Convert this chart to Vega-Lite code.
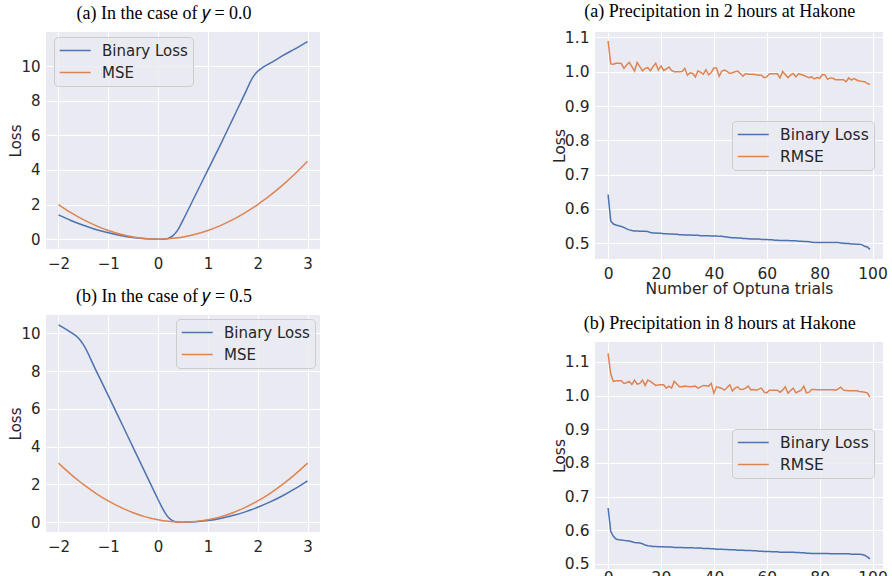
{
  "$schema": "https://vega.github.io/schema/vega-lite/v6.json",
  "background": "white",
  "padding": {"left": 8, "top": 3, "right": 0, "bottom": 0},
  "config": {
    "view": {"fill": "#EAEAF2", "stroke": null},
    "axis": {
      "domain": false, "ticks": false, "tickSize": 0,
      "grid": true, "gridColor": "#FFFFFF", "gridWidth": 1,
      "labelFont": "DejaVu Sans", "labelColor": "#262626",
      "titleFont": "DejaVu Sans", "titleColor": "#262626", "titleFontWeight": "normal"
    },
    "axisX": {"labelBaseline": "alphabetic", "labelPadding": 19},
    "axisY": {"labelPadding": 6, "titleBaseline": "alphabetic"},
    "title": {"font": "Liberation Serif", "fontSize": 18, "fontWeight": "normal", "color": "#000000", "offset": 9, "frame": "bounds", "anchor": "middle"},
    "legend": {
      "orient": "none", "title": null,
      "symbolType": "M-1,0H3", "symbolSize": 240, "symbolStrokeWidth": 1.5,
      "labelFont": "DejaVu Sans", "labelColor": "#262626", "labelOffset": 26,
      "fillColor": "rgba(234,234,242,0.8)", "strokeColor": "#CCCCCC",
      "cornerRadius": 4, "padding": 5, "rowPadding": 5
    }
  },
  "datasets": {
    "case_y0": [
      {"x": -2, "binary": 1.4, "mse": 2.0},
      {"x": -1.75, "binary": 1.08, "mse": 1.531},
      {"x": -1.5, "binary": 0.8, "mse": 1.125},
      {"x": -1.25, "binary": 0.56, "mse": 0.781},
      {"x": -1, "binary": 0.37, "mse": 0.5},
      {"x": -0.75, "binary": 0.21, "mse": 0.281},
      {"x": -0.5, "binary": 0.09, "mse": 0.125},
      {"x": -0.25, "binary": 0.02, "mse": 0.031},
      {"x": 0, "binary": 0, "mse": 0},
      {"x": 0.1, "binary": 0.0, "mse": 0.005},
      {"x": 0.2, "binary": 0.04, "mse": 0.02},
      {"x": 0.3, "binary": 0.2, "mse": 0.045},
      {"x": 0.4, "binary": 0.55, "mse": 0.08},
      {"x": 0.5, "binary": 1.1, "mse": 0.125},
      {"x": 0.75, "binary": 2.55, "mse": 0.281},
      {"x": 1, "binary": 4.0, "mse": 0.5},
      {"x": 1.25, "binary": 5.45, "mse": 0.781},
      {"x": 1.5, "binary": 6.95, "mse": 1.125},
      {"x": 1.75, "binary": 8.45, "mse": 1.531},
      {"x": 1.9, "binary": 9.35, "mse": 1.805},
      {"x": 2, "binary": 9.7, "mse": 2.0},
      {"x": 2.1, "binary": 9.92, "mse": 2.205},
      {"x": 2.25, "binary": 10.17, "mse": 2.531},
      {"x": 2.5, "binary": 10.6, "mse": 3.125},
      {"x": 2.75, "binary": 11.0, "mse": 3.781},
      {"x": 3, "binary": 11.42, "mse": 4.5}
    ],
    "case_y05": [
      {"x": -2, "binary": 10.45, "mse": 3.125},
      {"x": -1.75, "binary": 10.05, "mse": 2.531},
      {"x": -1.6, "binary": 9.75, "mse": 2.205},
      {"x": -1.5, "binary": 9.4, "mse": 2.0},
      {"x": -1.25, "binary": 8.05, "mse": 1.531},
      {"x": -1, "binary": 6.7, "mse": 1.125},
      {"x": -0.75, "binary": 5.33, "mse": 0.781},
      {"x": -0.5, "binary": 3.95, "mse": 0.5},
      {"x": -0.25, "binary": 2.57, "mse": 0.281},
      {"x": 0, "binary": 1.2, "mse": 0.125},
      {"x": 0.1, "binary": 0.68, "mse": 0.08},
      {"x": 0.2, "binary": 0.27, "mse": 0.045},
      {"x": 0.3, "binary": 0.07, "mse": 0.02},
      {"x": 0.4, "binary": 0.01, "mse": 0.005},
      {"x": 0.5, "binary": 0, "mse": 0},
      {"x": 0.6, "binary": 0.004, "mse": 0.005},
      {"x": 0.75, "binary": 0.022, "mse": 0.031},
      {"x": 1, "binary": 0.088, "mse": 0.125},
      {"x": 1.25, "binary": 0.197, "mse": 0.281},
      {"x": 1.5, "binary": 0.35, "mse": 0.5},
      {"x": 1.75, "binary": 0.547, "mse": 0.781},
      {"x": 2, "binary": 0.788, "mse": 1.125},
      {"x": 2.25, "binary": 1.072, "mse": 1.531},
      {"x": 2.5, "binary": 1.4, "mse": 2.0},
      {"x": 2.75, "binary": 1.772, "mse": 2.531},
      {"x": 3, "binary": 2.19, "mse": 3.125}
    ],
    "hakone_2h": [
      {"trial": 0, "binary": 0.642, "rmse": 1.090},
      {"trial": 1, "binary": 0.565, "rmse": 1.023},
      {"trial": 2, "binary": 0.556, "rmse": 1.022},
      {"trial": 3, "binary": 0.553, "rmse": 1.025},
      {"trial": 4, "binary": 0.551, "rmse": 1.025},
      {"trial": 5, "binary": 0.549, "rmse": 1.024},
      {"trial": 6, "binary": 0.546, "rmse": 1.010},
      {"trial": 7, "binary": 0.542, "rmse": 1.020},
      {"trial": 8, "binary": 0.539, "rmse": 1.027},
      {"trial": 9, "binary": 0.537, "rmse": 1.015},
      {"trial": 10, "binary": 0.536, "rmse": 1.002},
      {"trial": 11, "binary": 0.536, "rmse": 1.027},
      {"trial": 12, "binary": 0.535, "rmse": 1.015},
      {"trial": 13, "binary": 0.535, "rmse": 1.003},
      {"trial": 14, "binary": 0.535, "rmse": 1.010},
      {"trial": 15, "binary": 0.534, "rmse": 1.012},
      {"trial": 16, "binary": 0.531, "rmse": 1.003},
      {"trial": 17, "binary": 0.530, "rmse": 1.015},
      {"trial": 18, "binary": 0.530, "rmse": 1.025},
      {"trial": 19, "binary": 0.529, "rmse": 1.005},
      {"trial": 20, "binary": 0.529, "rmse": 1.017},
      {"trial": 21, "binary": 0.528, "rmse": 1.004},
      {"trial": 22, "binary": 0.528, "rmse": 1.008},
      {"trial": 23, "binary": 0.527, "rmse": 1.014},
      {"trial": 24, "binary": 0.527, "rmse": 1.004},
      {"trial": 25, "binary": 0.526, "rmse": 1.000},
      {"trial": 26, "binary": 0.526, "rmse": 1.000},
      {"trial": 27, "binary": 0.525, "rmse": 1.000},
      {"trial": 28, "binary": 0.525, "rmse": 1.001},
      {"trial": 29, "binary": 0.524, "rmse": 1.010},
      {"trial": 30, "binary": 0.524, "rmse": 0.990},
      {"trial": 31, "binary": 0.524, "rmse": 0.997},
      {"trial": 32, "binary": 0.523, "rmse": 0.995},
      {"trial": 33, "binary": 0.523, "rmse": 0.985},
      {"trial": 34, "binary": 0.523, "rmse": 1.003},
      {"trial": 35, "binary": 0.522, "rmse": 0.998},
      {"trial": 36, "binary": 0.522, "rmse": 0.993},
      {"trial": 37, "binary": 0.522, "rmse": 1.006},
      {"trial": 38, "binary": 0.522, "rmse": 0.991},
      {"trial": 39, "binary": 0.521, "rmse": 0.998},
      {"trial": 40, "binary": 0.521, "rmse": 1.011},
      {"trial": 41, "binary": 0.521, "rmse": 1.011},
      {"trial": 42, "binary": 0.520, "rmse": 0.987},
      {"trial": 43, "binary": 0.520, "rmse": 1.002},
      {"trial": 44, "binary": 0.519, "rmse": 1.005},
      {"trial": 45, "binary": 0.518, "rmse": 1.001},
      {"trial": 46, "binary": 0.517, "rmse": 0.995},
      {"trial": 47, "binary": 0.516, "rmse": 0.997},
      {"trial": 48, "binary": 0.516, "rmse": 1.000},
      {"trial": 49, "binary": 0.515, "rmse": 1.002},
      {"trial": 50, "binary": 0.515, "rmse": 0.995},
      {"trial": 51, "binary": 0.514, "rmse": 0.987},
      {"trial": 52, "binary": 0.514, "rmse": 0.995},
      {"trial": 53, "binary": 0.513, "rmse": 0.993},
      {"trial": 54, "binary": 0.512, "rmse": 0.993},
      {"trial": 55, "binary": 0.512, "rmse": 0.993},
      {"trial": 56, "binary": 0.512, "rmse": 0.991},
      {"trial": 57, "binary": 0.512, "rmse": 0.990},
      {"trial": 58, "binary": 0.511, "rmse": 0.990},
      {"trial": 59, "binary": 0.511, "rmse": 0.983},
      {"trial": 60, "binary": 0.511, "rmse": 0.985},
      {"trial": 61, "binary": 0.510, "rmse": 0.994},
      {"trial": 62, "binary": 0.510, "rmse": 0.994},
      {"trial": 63, "binary": 0.509, "rmse": 0.994},
      {"trial": 64, "binary": 0.509, "rmse": 0.994},
      {"trial": 65, "binary": 0.508, "rmse": 0.982},
      {"trial": 66, "binary": 0.508, "rmse": 1.001},
      {"trial": 67, "binary": 0.508, "rmse": 0.992},
      {"trial": 68, "binary": 0.508, "rmse": 0.983},
      {"trial": 69, "binary": 0.507, "rmse": 0.990},
      {"trial": 70, "binary": 0.507, "rmse": 0.995},
      {"trial": 71, "binary": 0.507, "rmse": 0.985},
      {"trial": 72, "binary": 0.506, "rmse": 0.994},
      {"trial": 73, "binary": 0.506, "rmse": 0.992},
      {"trial": 74, "binary": 0.505, "rmse": 0.989},
      {"trial": 75, "binary": 0.505, "rmse": 0.986},
      {"trial": 76, "binary": 0.504, "rmse": 0.983},
      {"trial": 77, "binary": 0.503, "rmse": 0.985},
      {"trial": 78, "binary": 0.502, "rmse": 0.979},
      {"trial": 79, "binary": 0.502, "rmse": 0.983},
      {"trial": 80, "binary": 0.502, "rmse": 0.981},
      {"trial": 81, "binary": 0.502, "rmse": 0.992},
      {"trial": 82, "binary": 0.502, "rmse": 0.991},
      {"trial": 83, "binary": 0.502, "rmse": 0.978},
      {"trial": 84, "binary": 0.502, "rmse": 0.982},
      {"trial": 85, "binary": 0.502, "rmse": 0.981},
      {"trial": 86, "binary": 0.502, "rmse": 0.977},
      {"trial": 87, "binary": 0.502, "rmse": 0.977},
      {"trial": 88, "binary": 0.501, "rmse": 0.977},
      {"trial": 89, "binary": 0.500, "rmse": 0.977},
      {"trial": 90, "binary": 0.499, "rmse": 0.971},
      {"trial": 91, "binary": 0.499, "rmse": 0.982},
      {"trial": 92, "binary": 0.498, "rmse": 0.976},
      {"trial": 93, "binary": 0.498, "rmse": 0.980},
      {"trial": 94, "binary": 0.497, "rmse": 0.976},
      {"trial": 95, "binary": 0.497, "rmse": 0.973},
      {"trial": 96, "binary": 0.496, "rmse": 0.972},
      {"trial": 97, "binary": 0.491, "rmse": 0.971},
      {"trial": 98, "binary": 0.489, "rmse": 0.966},
      {"trial": 99, "binary": 0.482, "rmse": 0.963}
    ],
    "hakone_8h": [
      {"trial": 0, "binary": 0.666, "rmse": 1.125},
      {"trial": 1, "binary": 0.597, "rmse": 1.064},
      {"trial": 2, "binary": 0.582, "rmse": 1.042},
      {"trial": 3, "binary": 0.574, "rmse": 1.044},
      {"trial": 4, "binary": 0.572, "rmse": 1.044},
      {"trial": 5, "binary": 0.571, "rmse": 1.044},
      {"trial": 6, "binary": 0.570, "rmse": 1.036},
      {"trial": 7, "binary": 0.569, "rmse": 1.038},
      {"trial": 8, "binary": 0.568, "rmse": 1.042},
      {"trial": 9, "binary": 0.566, "rmse": 1.033},
      {"trial": 10, "binary": 0.564, "rmse": 1.046},
      {"trial": 11, "binary": 0.563, "rmse": 1.034},
      {"trial": 12, "binary": 0.562, "rmse": 1.036},
      {"trial": 13, "binary": 0.560, "rmse": 1.046},
      {"trial": 14, "binary": 0.556, "rmse": 1.030},
      {"trial": 15, "binary": 0.554, "rmse": 1.046},
      {"trial": 16, "binary": 0.553, "rmse": 1.042},
      {"trial": 17, "binary": 0.552, "rmse": 1.036},
      {"trial": 18, "binary": 0.552, "rmse": 1.030},
      {"trial": 19, "binary": 0.551, "rmse": 1.031},
      {"trial": 20, "binary": 0.551, "rmse": 1.032},
      {"trial": 21, "binary": 0.551, "rmse": 1.032},
      {"trial": 22, "binary": 0.550, "rmse": 1.022},
      {"trial": 23, "binary": 0.550, "rmse": 1.028},
      {"trial": 24, "binary": 0.550, "rmse": 1.022},
      {"trial": 25, "binary": 0.549, "rmse": 1.042},
      {"trial": 26, "binary": 0.549, "rmse": 1.034},
      {"trial": 27, "binary": 0.549, "rmse": 1.026},
      {"trial": 28, "binary": 0.549, "rmse": 1.026},
      {"trial": 29, "binary": 0.548, "rmse": 1.028},
      {"trial": 30, "binary": 0.548, "rmse": 1.027},
      {"trial": 31, "binary": 0.548, "rmse": 1.026},
      {"trial": 32, "binary": 0.548, "rmse": 1.027},
      {"trial": 33, "binary": 0.547, "rmse": 1.028},
      {"trial": 34, "binary": 0.547, "rmse": 1.022},
      {"trial": 35, "binary": 0.547, "rmse": 1.026},
      {"trial": 36, "binary": 0.546, "rmse": 1.030},
      {"trial": 37, "binary": 0.546, "rmse": 1.029},
      {"trial": 38, "binary": 0.546, "rmse": 1.028},
      {"trial": 39, "binary": 0.545, "rmse": 1.036},
      {"trial": 40, "binary": 0.545, "rmse": 1.007},
      {"trial": 41, "binary": 0.544, "rmse": 1.026},
      {"trial": 42, "binary": 0.544, "rmse": 1.024},
      {"trial": 43, "binary": 0.544, "rmse": 1.021},
      {"trial": 44, "binary": 0.543, "rmse": 1.016},
      {"trial": 45, "binary": 0.543, "rmse": 1.024},
      {"trial": 46, "binary": 0.542, "rmse": 1.032},
      {"trial": 47, "binary": 0.542, "rmse": 1.014},
      {"trial": 48, "binary": 0.542, "rmse": 1.022},
      {"trial": 49, "binary": 0.541, "rmse": 1.026},
      {"trial": 50, "binary": 0.541, "rmse": 1.018},
      {"trial": 51, "binary": 0.541, "rmse": 1.019},
      {"trial": 52, "binary": 0.540, "rmse": 1.022},
      {"trial": 53, "binary": 0.540, "rmse": 1.028},
      {"trial": 54, "binary": 0.540, "rmse": 1.017},
      {"trial": 55, "binary": 0.539, "rmse": 1.018},
      {"trial": 56, "binary": 0.539, "rmse": 1.016},
      {"trial": 57, "binary": 0.538, "rmse": 1.019},
      {"trial": 58, "binary": 0.538, "rmse": 1.022},
      {"trial": 59, "binary": 0.537, "rmse": 1.010},
      {"trial": 60, "binary": 0.537, "rmse": 1.008},
      {"trial": 61, "binary": 0.537, "rmse": 1.016},
      {"trial": 62, "binary": 0.536, "rmse": 1.016},
      {"trial": 63, "binary": 0.536, "rmse": 1.016},
      {"trial": 64, "binary": 0.536, "rmse": 1.016},
      {"trial": 65, "binary": 0.535, "rmse": 1.010},
      {"trial": 66, "binary": 0.535, "rmse": 1.016},
      {"trial": 67, "binary": 0.535, "rmse": 1.026},
      {"trial": 68, "binary": 0.535, "rmse": 1.007},
      {"trial": 69, "binary": 0.535, "rmse": 1.015},
      {"trial": 70, "binary": 0.535, "rmse": 1.022},
      {"trial": 71, "binary": 0.534, "rmse": 1.008},
      {"trial": 72, "binary": 0.534, "rmse": 1.012},
      {"trial": 73, "binary": 0.533, "rmse": 1.016},
      {"trial": 74, "binary": 0.533, "rmse": 1.028},
      {"trial": 75, "binary": 0.532, "rmse": 1.008},
      {"trial": 76, "binary": 0.532, "rmse": 1.010},
      {"trial": 77, "binary": 0.531, "rmse": 1.018},
      {"trial": 78, "binary": 0.531, "rmse": 1.018},
      {"trial": 79, "binary": 0.531, "rmse": 1.017},
      {"trial": 80, "binary": 0.531, "rmse": 1.017},
      {"trial": 81, "binary": 0.531, "rmse": 1.017},
      {"trial": 82, "binary": 0.531, "rmse": 1.017},
      {"trial": 83, "binary": 0.531, "rmse": 1.017},
      {"trial": 84, "binary": 0.530, "rmse": 1.017},
      {"trial": 85, "binary": 0.530, "rmse": 1.017},
      {"trial": 86, "binary": 0.530, "rmse": 1.016},
      {"trial": 87, "binary": 0.530, "rmse": 1.020},
      {"trial": 88, "binary": 0.530, "rmse": 1.025},
      {"trial": 89, "binary": 0.530, "rmse": 1.016},
      {"trial": 90, "binary": 0.530, "rmse": 1.015},
      {"trial": 91, "binary": 0.530, "rmse": 1.014},
      {"trial": 92, "binary": 0.529, "rmse": 1.014},
      {"trial": 93, "binary": 0.529, "rmse": 1.014},
      {"trial": 94, "binary": 0.529, "rmse": 1.014},
      {"trial": 95, "binary": 0.529, "rmse": 1.012},
      {"trial": 96, "binary": 0.528, "rmse": 1.011},
      {"trial": 97, "binary": 0.526, "rmse": 1.010},
      {"trial": 98, "binary": 0.521, "rmse": 1.008},
      {"trial": 99, "binary": 0.515, "rmse": 0.995}
    ]
  },
  "hconcat": [
    {
      "vconcat": [
        {
          "title": {"text": "(a) In the case of 𝑦 = 0.0"},
          "width": 274, "height": 217,
          "data": {"name": "case_y0"},
          "transform": [{"fold": ["binary", "mse"], "as": ["series", "loss"]}],
          "mark": {"type": "line", "strokeWidth": 1.5, "interpolate": "monotone"},
          "encoding": {
            "x": {"field": "x", "type": "quantitative",
                  "scale": {"domain": [-2.25, 3.25], "nice": false, "zero": false},
                  "axis": {"values": [-2, -1, 0, 1, 2, 3], "title": null, "labelFontSize": 15}},
            "y": {"field": "loss", "type": "quantitative",
                  "scale": {"domain": [-0.57, 11.97], "nice": false, "zero": false},
                  "axis": {"values": [0, 2, 4, 6, 8, 10], "title": "Loss", "titleX": -26, "labelFontSize": 15, "titleFontSize": 15}},
            "color": {"field": "series", "type": "nominal",
                      "scale": {"domain": ["binary", "mse"], "range": ["#4C72B0", "#DD8452"]},
                      "legend": {"legendX": 8, "legendY": 5, "labelFontSize": 15,
                                 "labelExpr": "datum.label == 'binary' ? 'Binary Loss' : 'MSE'"}}
          }
        },
        {
          "title": {"text": "(b) In the case of 𝑦 = 0.5"},
          "width": 274, "height": 217,
          "data": {"name": "case_y05"},
          "transform": [{"fold": ["binary", "mse"], "as": ["series", "loss"]}],
          "mark": {"type": "line", "strokeWidth": 1.5, "interpolate": "monotone"},
          "encoding": {
            "x": {"field": "x", "type": "quantitative",
                  "scale": {"domain": [-2.25, 3.25], "nice": false, "zero": false},
                  "axis": {"values": [-2, -1, 0, 1, 2, 3], "title": null, "labelFontSize": 15}},
            "y": {"field": "loss", "type": "quantitative",
                  "scale": {"domain": [-0.52, 10.97], "nice": false, "zero": false},
                  "axis": {"values": [0, 2, 4, 6, 8, 10], "title": "Loss", "titleX": -26, "labelFontSize": 15, "titleFontSize": 15}},
            "color": {"field": "series", "type": "nominal",
                      "scale": {"domain": ["binary", "mse"], "range": ["#4C72B0", "#DD8452"]},
                      "legend": {"legendX": 130, "legendY": 4, "labelFontSize": 15,
                                 "labelExpr": "datum.label == 'binary' ? 'Binary Loss' : 'MSE'"}}
          }
        }
      ],
      "spacing": 66,
      "bounds": "flush",
      "resolve": {"scale": {"color": "independent"}, "legend": {"color": "independent"}}
    },
    {
      "vconcat": [
        {
          "title": {"text": "(a) Precipitation in 2 hours at Hakone"},
          "width": 288, "height": 227,
          "data": {"name": "hakone_2h"},
          "transform": [{"fold": ["binary", "rmse"], "as": ["series", "loss"]}],
          "mark": {"type": "line", "strokeWidth": 1.5},
          "encoding": {
            "x": {"field": "trial", "type": "quantitative",
                  "scale": {"domain": [-4.95, 103.95], "nice": false, "zero": false},
                  "axis": {"values": [0, 20, 40, 60, 80, 100], "title": "Number of Optuna trials",
                           "labelFontSize": 15.5, "titleFontSize": 15.5, "titleBaseline": "alphabetic", "titleY": 34}},
            "y": {"field": "loss", "type": "quantitative",
                  "scale": {"domain": [0.454, 1.116], "nice": false, "zero": false},
                  "axis": {"values": [0.5, 0.6, 0.7, 0.8, 0.9, 1.0, 1.1], "format": ".1f", "title": "Loss", "titleX": -31,
                           "labelFontSize": 15.5, "titleFontSize": 15.5}},
            "color": {"field": "series", "type": "nominal",
                      "scale": {"domain": ["binary", "rmse"], "range": ["#4C72B0", "#DD8452"]},
                      "legend": {"legendX": 137, "legendY": 89, "labelFontSize": 15.5,
                                 "labelExpr": "datum.label == 'binary' ? 'Binary Loss' : 'RMSE'"}}
          }
        },
        {
          "title": {"text": "(b) Precipitation in 8 hours at Hakone"},
          "width": 288, "height": 227,
          "data": {"name": "hakone_8h"},
          "transform": [{"fold": ["binary", "rmse"], "as": ["series", "loss"]}],
          "mark": {"type": "line", "strokeWidth": 1.5},
          "encoding": {
            "x": {"field": "trial", "type": "quantitative",
                  "scale": {"domain": [-4.95, 103.95], "nice": false, "zero": false},
                  "axis": {"values": [0, 20, 40, 60, 80, 100], "title": null, "labelPadding": 13,
                           "labelFontSize": 15.5}},
            "y": {"field": "loss", "type": "quantitative",
                  "scale": {"domain": [0.485, 1.159], "nice": false, "zero": false},
                  "axis": {"values": [0.5, 0.6, 0.7, 0.8, 0.9, 1.0, 1.1], "format": ".1f", "title": "Loss", "titleX": -31,
                           "labelFontSize": 15.5, "titleFontSize": 15.5}},
            "color": {"field": "series", "type": "nominal",
                      "scale": {"domain": ["binary", "rmse"], "range": ["#4C72B0", "#DD8452"]},
                      "legend": {"legendX": 137, "legendY": 87, "labelFontSize": 15.5,
                                 "labelExpr": "datum.label == 'binary' ? 'Binary Loss' : 'RMSE'"}}
          }
        }
      ],
      "spacing": 83,
      "bounds": "flush",
      "resolve": {"scale": {"color": "independent"}, "legend": {"color": "independent"}}
    }
  ],
  "spacing": 232,
  "bounds": "full",
  "resolve": {"scale": {"color": "independent"}, "legend": {"color": "independent"}}
}
